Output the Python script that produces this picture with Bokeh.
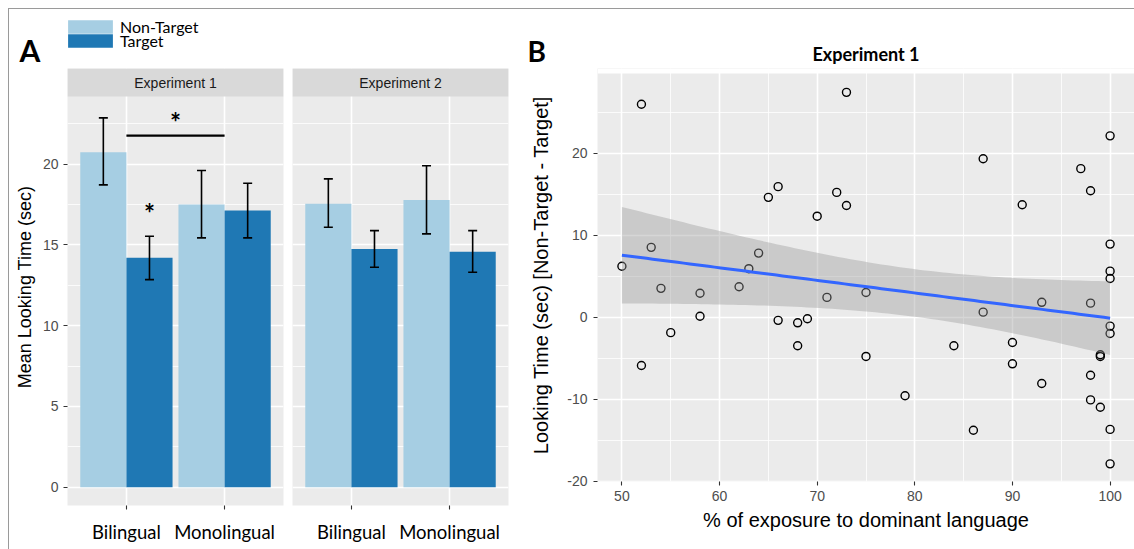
import numpy as np
from bokeh.plotting import figure
from bokeh.models import (ColumnDataSource, FixedTicker, Range1d, Whisker, TeeHead,
                          Label, Legend, LegendItem)
from bokeh.layouts import row, column
from bokeh.embed import file_html
from bokeh.resources import INLINE
from bokeh.core.properties import value

# ---------------- data: panel A ----------------
categories = ["Bilingual", "Monolingual"]
experiments = ["Experiment 1", "Experiment 2"]
groups = ["Non-Target", "Target"]

exp1_nontarget = [20.73, 17.49]
exp1_nontarget_lower = [18.71, 15.43]
exp1_nontarget_upper = [22.86, 19.60]
exp1_target = [14.20, 17.12]
exp1_target_lower = [12.85, 15.43]
exp1_target_upper = [15.53, 18.81]

exp2_nontarget = [17.54, 17.78]
exp2_nontarget_lower = [16.09, 15.68]
exp2_nontarget_upper = [19.08, 19.89]
exp2_target = [14.75, 14.58]
exp2_target_lower = [13.61, 13.30]
exp2_target_upper = [15.88, 15.88]

bar_y_ticks = [0, 5, 10, 15, 20]
bar_y_minor = [2.5, 7.5, 12.5, 17.5, 22.5]

# significance marks (Experiment 1)
sig_bracket_y = 21.76
sig_star_between_y = 22.83
sig_star_target_y = 17.23

# ---------------- data: panel B ----------------
exposure = [50, 52, 52, 53, 54, 55, 58, 58, 62, 63, 64, 65, 66, 66, 68, 68, 69, 70,
            71, 72, 73, 73, 75, 75, 79, 84, 86, 87, 87, 90, 90, 91, 93, 93, 97,
            98, 98, 98, 98, 99, 99, 99, 100, 100, 100, 100, 100, 100, 100, 100]
looking_diff = [6.2, -5.9, 25.95, 8.5, 3.5, -1.9, 2.9, 0.1, 3.7, 5.9, 7.8, 14.6, 15.9, -0.4,
                -0.7, -3.5, -0.2, 12.3, 2.4, 15.2, 13.6, 27.4, 3.0, -4.8, -9.6, -3.5, -13.8,
                0.6, 19.3, -3.1, -5.7, 13.7, 1.8, -8.1, 18.1, 15.4, 1.7, -7.1, -10.1, -4.6,
                -4.8, -11.0, 22.1, 8.9, 5.6, 4.7, -1.1, -2.0, -13.7, -17.9]
scatter_x_ticks = [50, 60, 70, 80, 90, 100]
scatter_x_minor = [55, 65, 75, 85, 95]
scatter_y_ticks = [-20, -10, 0, 10, 20]
scatter_y_minor = [-15, -5, 5, 15, 25]
T_CRIT = 2.0106  # t quantile 0.975, df = n - 2

# ---------------- style / layout ----------------
NT_COLOR = "#A6CEE3"
T_COLOR = "#1F78B4"
PANEL_BG = "#EBEBEB"
STRIP_BG = "#D9D9D9"
TICK_TXT = "#4D4D4D"
SANS = "Liberation Sans"
HUMAN = "Lato"

HEADER_H = 59
BODY_H = 481
Y0, Y1 = -1.13, 24.18
PANEL_H, STRIP_H = 409, 28
STRIP_TOP = Y1 + (Y1 - Y0) * STRIP_H / PANEL_H
X0, X1 = 0.4, 2.6
BAR_W = 0.47
DODGE = 0.235
A_FRAME_W = 216
A1_BORDERS = (58, 4)
A2_BORDERS = (5, 11)
B_LEFT = 78
B_GAP = 5          # panel B starts 5 px lower than the facet strips of panel A
BX0, BX1 = 47.5, 102.5
BY0, BY1 = -20.05, 29.7
B_FRAME_W, B_PANEL_H = 537, 408
B_PX_Y = B_PANEL_H / (BY1 - BY0)
BY1_FRAME = BY1 + B_GAP / B_PX_Y
A1_W = A1_BORDERS[0] + A_FRAME_W + A1_BORDERS[1]
A2_W = A2_BORDERS[0] + A_FRAME_W + A2_BORDERS[1]
TOTAL_W = A1_W + A2_W + B_LEFT + B_FRAME_W


def style_common(p):
    p.background_fill_color = PANEL_BG
    p.border_fill_color = "white"
    p.outline_line_color = None
    for g in p.grid:
        g.grid_line_color = "white"
        g.grid_line_width = 1.6
        g.minor_grid_line_color = "white"
        g.minor_grid_line_width = 0.8
    for ax in p.axis:
        ax.axis_line_color = None
        ax.major_tick_line_color = "#333333"
        ax.major_tick_line_width = 1.1
        ax.major_tick_out = 4
        ax.major_tick_in = 0
        ax.minor_tick_out = 0
        ax.minor_tick_in = 0
        ax.major_label_text_color = TICK_TXT
        ax.major_label_text_font = SANS
        ax.major_label_text_font_size = "14px"
        ax.axis_label_text_font = SANS
        ax.axis_label_text_font_style = "normal"
        ax.axis_label_text_color = "black"


def bar_panel(idx, nt, ntl, ntu, t, tl, tu, show_y, borders):
    p = figure(frame_width=A_FRAME_W, frame_height=PANEL_H + STRIP_H,
               x_range=Range1d(X0, X1), y_range=Range1d(Y0, STRIP_TOP), title=None,
               min_border_left=borders[0], min_border_right=borders[1],
               min_border_top=0, min_border_bottom=BODY_H - PANEL_H - STRIP_H,
               y_axis_location="left" if show_y else None,
               output_backend="svg", toolbar_location=None)
    xs = np.arange(1, len(categories) + 1)
    x_nt = xs - DODGE
    x_t = xs + DODGE
    p.vbar(x=x_nt, top=nt, bottom=0, width=BAR_W, fill_color=NT_COLOR, line_color=None)
    p.vbar(x=x_t, top=t, bottom=0, width=BAR_W, fill_color=T_COLOR, line_color=None)
    for xx, lo, hi in ((x_nt, ntl, ntu), (x_t, tl, tu)):
        src = ColumnDataSource(dict(x=xx, lo=lo, hi=hi))
        w = Whisker(base="x", lower="lo", upper="hi", source=src, line_width=1.6,
                    line_color="black", level="annotation",
                    upper_head=TeeHead(size=9, line_width=1.6, line_color="black"),
                    lower_head=TeeHead(size=9, line_width=1.6, line_color="black"))
        p.add_layout(w)
    # facet strip
    p.quad(left=[X0], right=[X1], bottom=[Y1], top=[STRIP_TOP], fill_color=STRIP_BG, line_color=None)
    p.text(x=[(X0 + X1) / 2], y=[(Y1 + STRIP_TOP) / 2], text=[experiments[idx]],
           text_font=value(SANS), text_font_size="14px", text_color="#1A1A1A",
           text_align="center", text_baseline="middle")
    p.xgrid.ticker = FixedTicker(ticks=list(xs))
    p.ygrid.ticker = FixedTicker(ticks=bar_y_ticks, minor_ticks=bar_y_minor)
    p.xaxis.ticker = FixedTicker(ticks=list(xs))
    p.xaxis.major_label_overrides = {int(i + 1): c for i, c in enumerate(categories)}
    if show_y:
        p.yaxis.ticker = FixedTicker(ticks=bar_y_ticks)
        p.yaxis.axis_label = "Mean Looking Time (sec)"
    style_common(p)
    p.xaxis.major_label_text_font = HUMAN
    p.xaxis.major_label_text_font_size = "18.5px"
    p.xaxis.major_label_text_color = "black"
    p.xaxis.major_label_standoff = 11
    if show_y:
        p.yaxis.axis_label_text_font_size = "18px"
        p.yaxis.axis_label_standoff = 5
        p.yaxis.major_label_standoff = 5
    return p, xs


pA1, xs = bar_panel(0, exp1_nontarget, exp1_nontarget_lower, exp1_nontarget_upper,
                    exp1_target, exp1_target_lower, exp1_target_upper, True, A1_BORDERS)
pA2, _ = bar_panel(1, exp2_nontarget, exp2_nontarget_lower, exp2_nontarget_upper,
                   exp2_target, exp2_target_lower, exp2_target_upper, False, A2_BORDERS)

# significance bracket and stars
pA1.segment(x0=[xs[0]], x1=[xs[1]], y0=[sig_bracket_y], y1=[sig_bracket_y],
            line_color="black", line_width=2.2)
pA1.text(x=[(xs[0] + xs[1]) / 2, xs[0] + DODGE], y=[sig_star_between_y, sig_star_target_y],
         text=["*", "*"], text_font=value(HUMAN), text_font_style="bold", text_font_size="26px",
         text_color="black", text_align="center", text_baseline="middle", y_offset=4)

# ---------------- panel B ----------------
# frames in a row share their top edge, so B's frame starts with the strips of A and
# its first B_GAP pixels are left white
pB = figure(frame_width=B_FRAME_W, frame_height=B_PANEL_H + B_GAP, x_range=Range1d(BX0, BX1),
            y_range=Range1d(BY0, BY1_FRAME), title=None, min_border_left=B_LEFT,
            min_border_right=0, min_border_top=0,
            min_border_bottom=BODY_H - B_PANEL_H - B_GAP,
            output_backend="svg", toolbar_location=None)
pB.quad(left=[BX0], right=[BX1], bottom=[BY1], top=[BY1_FRAME], fill_color="white",
        line_color=None)
pB.scatter(exposure, looking_diff, marker="circle", size=8, fill_color=None,
           line_color="black", line_width=1.4)

x = np.array(exposure, dtype=float)
y = np.array(looking_diff, dtype=float)
n = len(x)
slope, intercept = np.polyfit(x, y, 1)
xg = np.linspace(x.min(), x.max(), 80)
yhat = intercept + slope * xg
resid = y - (intercept + slope * x)
s = np.sqrt(np.sum(resid ** 2) / (n - 2))
se = s * np.sqrt(1.0 / n + (xg - x.mean()) ** 2 / np.sum((x - x.mean()) ** 2))
pB.varea(x=xg, y1=yhat - T_CRIT * se, y2=yhat + T_CRIT * se, fill_color="#999999", fill_alpha=0.4)
pB.line(xg, yhat, line_color="#3366FF", line_width=3)

pB.xaxis.ticker = FixedTicker(ticks=scatter_x_ticks)
pB.yaxis.ticker = FixedTicker(ticks=scatter_y_ticks)
pB.yaxis.major_label_overrides = {t: str(t) for t in scatter_y_ticks}
pB.xgrid.ticker = FixedTicker(ticks=scatter_x_ticks, minor_ticks=scatter_x_minor)
pB.ygrid.ticker = FixedTicker(ticks=scatter_y_ticks, minor_ticks=scatter_y_minor)
pB.xaxis.axis_label = "% of exposure to dominant language"
pB.yaxis.axis_label = "Looking Time (sec) [Non-Target - Target]"
style_common(pB)
pB.xaxis.axis_label_text_font_size = "20px"
pB.yaxis.axis_label_text_font_size = "20px"
pB.xaxis.major_label_standoff = 5
pB.yaxis.major_label_standoff = 6
pB.xaxis.axis_label_standoff = 5
pB.yaxis.axis_label_standoff = 12

# ---------------- header strip: panel letters, legend, title of B ----------------
header = figure(frame_width=TOTAL_W, frame_height=HEADER_H, x_range=Range1d(0, TOTAL_W),
                y_range=Range1d(0, HEADER_H), title=None,
                min_border_left=0, min_border_right=0, min_border_top=0, min_border_bottom=0,
                x_axis_location=None, y_axis_location=None,
                output_backend="svg", toolbar_location=None)
header.background_fill_color = "white"
header.border_fill_color = "white"
header.outline_line_color = None
header.xgrid.visible = False
header.ygrid.visible = False
# zero-size placeholder renderers that carry the legend key colours
key_nt = header.vbar(x=[-10], top=[0], bottom=[0], width=0, fill_color=NT_COLOR, line_color=None)
key_t = header.vbar(x=[-10], top=[0], bottom=[0], width=0, fill_color=T_COLOR, line_color=None)

LEG_X = A1_BORDERS[0] - 5   # area legend keys are inset by 10 % of the key box
ROW_H = 20                  # height of one legend row (text height)
for lab, rend, swatch_top in ((groups[0], key_nt, 10.3), (groups[1], key_t, 24.3)):
    leg_top = swatch_top - 3
    lg = Legend(items=[LegendItem(label=lab, renderers=[rend])],
                location=(LEG_X, HEADER_H - leg_top - ROW_H), orientation="vertical",
                background_fill_alpha=0, border_line_color=None, padding=0, margin=0,
                spacing=0, glyph_width=56, glyph_height=17, label_height=14,
                label_standoff=2, label_text_font=HUMAN, label_text_font_size="16px",
                label_text_color="black")
    header.add_layout(lg)

header.add_layout(Label(x=10, y=HEADER_H - 40, text="A", text_font=HUMAN, text_font_size="30px",
                        text_font_style="bold", text_color="black", text_baseline="middle"))
header.add_layout(Label(x=A1_W + A2_W + 8, y=HEADER_H - 41, text="B", text_font=HUMAN,
                        text_font_size="28px", text_font_style="bold", text_color="black",
                        text_baseline="middle"))
header.add_layout(Label(x=A1_W + A2_W + B_LEFT + B_FRAME_W / 2, y=HEADER_H - 44.5,
                        text="Experiment 1", text_font=HUMAN, text_font_size="18px",
                        text_font_style="bold", text_color="black", text_align="center",
                        text_baseline="middle"))

body = row(pA1, pA2, pB, spacing=0)
layout = column(header, body, spacing=0, margin=(8, 0, 0, 8),
                styles={"border-top": "1px solid #9A9A9A", "border-left": "1px solid #9A9A9A"})

open("out.html", "w").write(file_html(layout, INLINE))
